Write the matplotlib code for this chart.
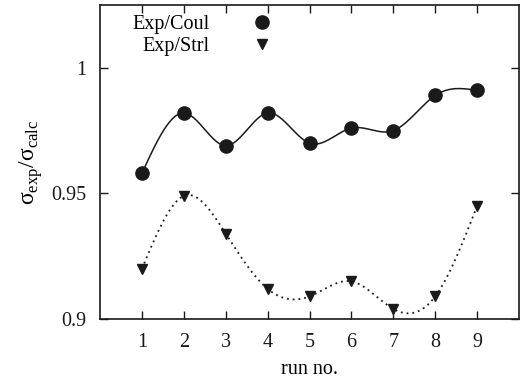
import numpy as np
import matplotlib
matplotlib.use("Agg")
import matplotlib.pyplot as plt

plt.rcParams['font.family'] = ['Liberation Serif', 'DejaVu Serif']
plt.rcParams['mathtext.fontset'] = 'custom'
plt.rcParams['mathtext.rm'] = 'Liberation Serif'

# measured ratios for each run
run = [1, 2, 3, 4, 5, 6, 7, 8, 9]
exp_coul = [0.958, 0.982, 0.969, 0.982, 0.970, 0.976, 0.975, 0.989, 0.991]
exp_strl = [0.920, 0.949, 0.934, 0.912, 0.909, 0.915, 0.904, 0.909, 0.945]


def natural_spline(x, y, n=400):
    # natural cubic spline through the points (like gnuplot "smooth csplines")
    x = np.asarray(x, float)
    y = np.asarray(y, float)
    m = len(x)
    h = np.diff(x)
    A = np.zeros((m, m))
    b = np.zeros(m)
    A[0, 0] = 1
    A[-1, -1] = 1
    for i in range(1, m - 1):
        A[i, i - 1] = h[i - 1]
        A[i, i] = 2 * (h[i - 1] + h[i])
        A[i, i + 1] = h[i]
        b[i] = 6 * ((y[i + 1] - y[i]) / h[i] - (y[i] - y[i - 1]) / h[i - 1])
    M = np.linalg.solve(A, b)
    xs = np.linspace(x[0], x[-1], n)
    k = np.clip(np.searchsorted(x, xs) - 1, 0, m - 2)
    t0 = x[k + 1] - xs
    t1 = xs - x[k]
    hk = h[k]
    ys = (M[k] * t0**3 + M[k + 1] * t1**3) / (6 * hk) \
        + (y[k] / hk - M[k] * hk / 6) * t0 \
        + (y[k + 1] / hk - M[k + 1] * hk / 6) * t1
    return xs, ys


fig = plt.figure(figsize=(5.22, 3.82), dpi=100)
ax = fig.add_axes([0.1916, 0.1649, 0.8027, 0.822])

xs, ys = natural_spline(run, exp_coul)
ax.plot(xs, ys, color='#1a1a1a', lw=1.1)
xs, ys = natural_spline(run, exp_strl)
ax.plot(xs, ys, color='#1a1a1a', lw=1.3, ls=(0, (1, 2.2)))

ax.plot(run, exp_coul, 'o', color='#1a1a1a', ms=9.5, ls='none', label='Exp/Coul')
ax.plot(run, exp_strl, 'v', color='#1a1a1a', ms=7.5, ls='none', label='Exp/Strl')

ax.set_xlim(0, 10)
ax.set_ylim(0.9, 1.025)
ax.set_xticks(run)
ax.set_yticks([0.9, 0.95, 1.0])
ax.set_yticklabels(['0.9', '0.95', '1'])
ax.tick_params(direction='in', length=6, width=1, top=True, right=True,
               labelsize=14.5, pad=10, colors='#1a1a1a')
for s in ax.spines.values():
    s.set_linewidth(1.2)
    s.set_color('#1a1a1a')

ax.set_xlabel('run no.', fontsize=14.5, labelpad=6)
ax.set_ylabel('σ$_{\\mathrm{exp}}$/σ$_{\\mathrm{calc}}$', fontsize=17, labelpad=4)

leg = ax.legend(loc='upper left', bbox_to_anchor=(0.078, 0.968), markerfirst=False,
                frameon=False, fontsize=14.5, handletextpad=2.0, labelspacing=0.12,
                handlelength=1.2, borderaxespad=0, borderpad=0)
# centre the two entries over each other, gnuplot style
for t in leg.get_texts():
    t.set_ha('center')

fig.savefig('out.png', dpi=100)
